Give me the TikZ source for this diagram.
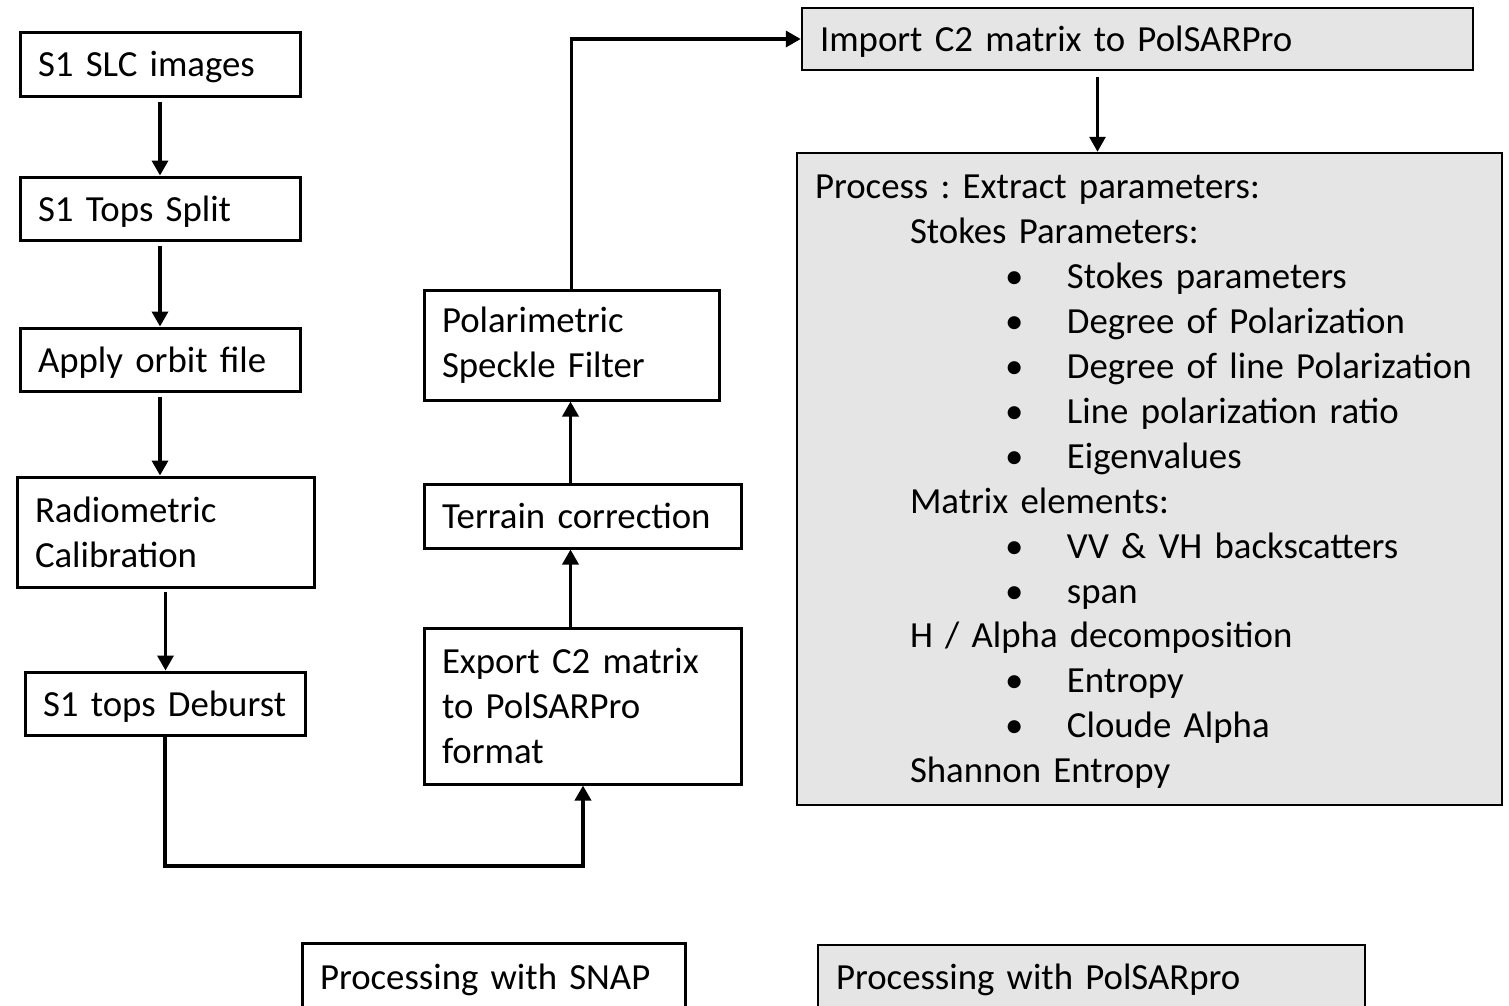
\documentclass[tikz,border=0pt]{standalone}
\usepackage{fontspec}
\setmainfont{Carlito}
\usetikzlibrary{arrows.meta,positioning}

\tikzset{
    box/.style={draw, line width=3pt, rectangle, inner xsep=18pt, inner ysep=0pt,
                align=left, text width=#1-36pt, minimum width=#1},
    greybox/.style={box=#1, fill=black!10, line width=2.5pt},
    oneline/.style={text depth=0pt},
    arr/.style={line width=3.5pt, -{Triangle[length=15pt,width=16pt]}},
}
\newcommand{\lvone}{\hspace*{95pt}}
\newcommand{\itm}{\hspace*{190pt}\makebox[62pt][l]{\textbullet}}
\frenchspacing

\begin{document}
\begin{tikzpicture}[x=1pt, y=-1pt, font=\fontsize{36.8pt}{44.9pt}\selectfont]
            \clip (0,0) rectangle (1509,1005);

            % SNAP chain
            \node[box=280pt, oneline, minimum height=64pt] (slc) at (160,64) {S1 SLC images};
            \node[box=280pt, oneline, minimum height=63pt] (split) at (160,208.5) {S1 Tops Split};
            \node[box=280pt, oneline, minimum height=63pt] (orbit) at (160,359.5) {Apply orbit file};
            \node[box=297pt, minimum height=110pt] (radio) at (165.5,532) {Radiometric\\Calibration};
            \node[box=280pt, oneline, minimum height=63pt] (deburst) at (165,703.5) {S1 tops Deburst};

            \node[box=317pt, minimum height=156pt] (export) at (582.5,706) {Export C2 matrix\\to PolSARPro\\format};
            \node[box=317pt, oneline, minimum height=64pt] (terrain) at (582.5,516) {Terrain correction};
            \node[box=295pt, minimum height=110pt] (speckle) at (571.5,345) {Polarimetric\\Speckle Filter};

            % PolSARpro part
            \node[greybox=671pt, oneline, minimum height=62pt] (import) at (1137.5,39) {Import C2 matrix to PolSARPro};
            \node[greybox=705pt, minimum height=652pt] (process) at (1149.5,479) {%
                Process : Extract parameters:\\
                \lvone Stokes Parameters:\\
                \itm Stokes parameters\\
                \itm Degree of Polarization\\
                \itm Degree of line Polarization\\
                \itm Line polarization ratio\\
                \itm Eigenvalues\\
                \lvone Matrix elements:\\
                \itm VV \& VH backscatters\\
                \itm span\\
                \lvone H / Alpha decomposition\\
                \itm Entropy\\
                \itm Cloude Alpha\\
                \lvone \raisebox{0pt}[\height][0pt]{Shannon Entropy}};

            % legend
            \node[box=383pt, oneline, minimum height=68pt] (snap) at (493.5,977) {Processing with SNAP};
            \node[greybox=547pt, oneline, minimum height=64pt] (pspro) at (1091.5,977) {Processing with PolSARpro};

            % connectors
            \draw[arr, shorten <=4pt] (slc.south) -- (slc.south |- split.north);
            \draw[arr, shorten <=4pt] (split.south) -- (split.south |- orbit.north);
            \draw[arr, shorten <=4pt] (orbit.south) -- (orbit.south |- radio.north);
            \draw[arr, shorten <=3pt] (radio.south) -- (radio.south |- deburst.north);

            \coordinate (lowbend) at (583,866);
            \draw[arr] (deburst.south) |- (lowbend) -- (lowbend |- export.south);
            \draw[arr] ([xshift=-12pt]export.north) -- ([xshift=-12pt]terrain.south);
            \draw[arr] ([xshift=-12pt]terrain.north) -- ([xshift=-12pt]terrain.north |- speckle.south);
            \draw[arr] (speckle.north) |- (import.west);

            \draw[arr, line width=3pt, shorten <=6pt] ([xshift=-40pt]import.south) -- ([xshift=-40pt]import.south |- process.north);
\end{tikzpicture}
\end{document}
